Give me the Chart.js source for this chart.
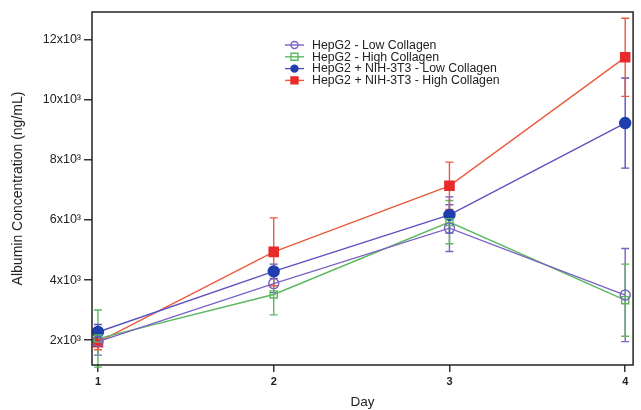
<!DOCTYPE html>
<html>
<head>
<meta charset="utf-8">
<script src="https://cdn.jsdelivr.net/npm/chart.js@4"></script>
<style>
    html, body { margin: 0; padding: 0; background: #fff; }
    #wrap { width: 641px; height: 410px; }
</style>
</head>
<body>
<div id="wrap"><canvas id="albuminChart" width="641" height="410"></canvas></div>
<script>
// Albumin secretion chart

const days = [1, 2, 3, 4];
const yTicks = [2000, 4000, 6000, 8000, 10000, 12000];

// Mean values (ng/mL)
const lowColl = [1950, 3880, 5730, 3500];
const highColl = [2050, 3520, 5930, 3330];
const coLowColl = [2270, 4290, 6170, 9230];
const coHighColl = [1930, 4940, 7140, 11420];

// Error bar half-widths (ng/mL)
const lowCollErr = [450, 300, 780, 1550];
const highCollErr = [950, 680, 720, 1200];
const coLowCollErr = [250, 240, 600, 1500];
const coHighCollErr = [250, 1130, 790, 1300];

const labels = [
    'HepG2 - Low Collagen',
    'HepG2 - High Collagen',
    'HepG2 + NIH-3T3 - Low Collagen',
    'HepG2 + NIH-3T3 - High Collagen'
];

const FONT = '"Liberation Sans", Arial, sans-serif';

function toPoints(values) {
    return days.map((d, i) => ({ x: d, y: values[i] }));
}

function makeSeries(label, values, errs, lineColor, markColor, style, filled, radius) {
    return {
        label: label,
        data: toPoints(values),
        errors: errs,
        errColor: lineColor,
        borderColor: lineColor,
        borderWidth: 1.4,
        pointStyle: style,
        pointRadius: radius,
        pointBorderColor: markColor,
        pointBackgroundColor: filled ? markColor : 'rgba(255,255,255,0)',
        pointBorderWidth: 1.4,
        fill: false,
        tension: 0
    };
}

// Draw vertical error bars with caps
const errorBars = {
    id: 'errorBars',
    beforeDatasetsDraw(chart) {
        const ctx = chart.ctx;
        const xs = chart.scales.x;
        const ys = chart.scales.y;
        chart.data.datasets.forEach(ds => {
            ctx.save();
            ctx.strokeStyle = ds.errColor;
            ctx.lineWidth = 1.4;
            ds.data.forEach((p, i) => {
                const e = ds.errors[i];
                const px = xs.getPixelForValue(p.x);
                const top = ys.getPixelForValue(p.y + e);
                const bot = ys.getPixelForValue(p.y - e);
                ctx.beginPath();
                ctx.moveTo(px, top);
                ctx.lineTo(px, bot);
                ctx.moveTo(px - 4, top);
                ctx.lineTo(px + 4, top);
                ctx.moveTo(px - 4, bot);
                ctx.lineTo(px + 4, bot);
                ctx.stroke();
            });
            ctx.restore();
        });
    }
};

// Frame around plot area and legend inside it
const frameAndLegend = {
    id: 'frameAndLegend',
    afterDraw(chart) {
        const ctx = chart.ctx;
        const a = chart.chartArea;
        ctx.save();
        ctx.strokeStyle = '#222';
        ctx.lineWidth = 1.5;
        ctx.strokeRect(a.left, a.top, a.right - a.left, a.bottom - a.top);

        const x0 = a.left + 193;
        const y0 = a.top + 33;
        ctx.font = '12.3px ' + FONT;
        ctx.textBaseline = 'middle';
        chart.data.datasets.forEach((ds, i) => {
            const y = y0 + i * 11.8;
            ctx.strokeStyle = ds.borderColor;
            ctx.lineWidth = 1.4;
            ctx.beginPath();
            ctx.moveTo(x0, y);
            ctx.lineTo(x0 + 19, y);
            ctx.stroke();
            ctx.fillStyle = ds.pointBackgroundColor;
            ctx.strokeStyle = ds.pointBorderColor;
            ctx.beginPath();
            const cx = x0 + 9.5;
            if (ds.pointStyle === 'rect') {
                ctx.rect(cx - 3.5, y - 3.5, 7, 7);
            } else {
                ctx.arc(cx, y, 3.5, 0, Math.PI * 2);
            }
            ctx.fill();
            ctx.stroke();
            ctx.fillStyle = '#222';
            ctx.fillText(ds.label, x0 + 27, y + 0.5);
        });
        ctx.restore();
    }
};

const chart = new Chart(document.getElementById('albuminChart'), {
    type: 'line',
    data: {
        datasets: [
            makeSeries(labels[0], lowColl, lowCollErr, '#7a62c4', '#7a62c4', 'circle', false, 5),
            makeSeries(labels[1], highColl, highCollErr, '#5cb85c', '#5cb85c', 'rect', false, 5),
            makeSeries(labels[2], coLowColl, coLowCollErr, '#5a52c0', '#1f3fb0', 'circle', true, 5.5),
            makeSeries(labels[3], coHighColl, coHighCollErr, '#ec5a3c', '#e82a2a', 'rect', true, 6.5)
        ]
    },
    options: {
        responsive: false,
        animation: false,
        layout: { padding: { left: 10, right: 3, top: 12, bottom: 0 } },
        plugins: {
            legend: { display: false },
            tooltip: { enabled: false }
        },
        scales: {
            x: {
                type: 'linear',
                min: 0.966,
                max: 4.045,
                afterBuildTicks: s => { s.ticks = days.map(v => ({ value: v })); },
                afterFit: s => { s.height = 45; },
                grid: { drawOnChartArea: false, tickLength: 7, color: '#333', lineWidth: 1.5 },
                border: { display: false },
                ticks: {
                    color: '#222',
                    padding: 3,
                    maxRotation: 0,
                    font: { family: FONT, size: 11, weight: 'bold' },
                    callback: v => String(v)
                },
                title: {
                    display: true,
                    text: 'Day',
                    color: '#222',
                    padding: { top: 0, bottom: 0 },
                    font: { family: FONT, size: 13.5 }
                }
            },
            y: {
                min: 1170,
                max: 12930,
                afterBuildTicks: s => { s.ticks = yTicks.map(v => ({ value: v })); },
                afterFit: s => { s.width = 82; },
                grid: { drawOnChartArea: false, tickLength: 8, color: '#333', lineWidth: 1.5 },
                border: { display: false },
                ticks: {
                    color: '#222',
                    padding: 3,
                    font: { family: FONT, size: 12.5 },
                    callback: v => (v / 1000) + 'x10\u00B3'
                },
                title: {
                    display: true,
                    text: 'Albumin Concentration (ng/mL)',
                    color: '#222',
                    padding: { top: 0, bottom: 8 },
                    font: { family: FONT, size: 14 }
                }
            }
        }
    },
    plugins: [errorBars, frameAndLegend]
});
</script>
</body>
</html>
